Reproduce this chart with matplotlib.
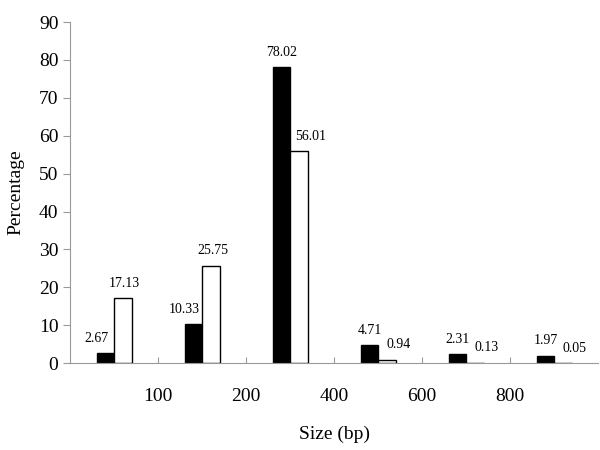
import numpy as np
import matplotlib
matplotlib.use('Agg')
import matplotlib.pyplot as plt

plt.rcParams['font.family'] = ['Liberation Serif', 'DejaVu Serif']

# 数据
groups = ['<100', '100-200', '200-400', '400-600', '600-800', '>800']
black_vals = [2.67, 10.33, 78.02, 4.71, 2.31, 1.97]
white_vals = [17.13, 25.75, 56.01, 0.94, 0.13, 0.05]
tick_labels = ['100', '200', '400', '600', '800']

fig = plt.figure(figsize=(6, 4.5), dpi=100)
ax = fig.add_axes([0.117, 0.193, 0.88, 0.758])

x = np.arange(len(groups))
w = 0.2
ax.bar(x - w / 2, black_vals, w, color='black', edgecolor='black', linewidth=1)
ax.bar(x + w / 2, white_vals, w, color='white', edgecolor='black', linewidth=1)

# 数值标注
for i in range(len(groups)):
    b, wv = black_vals[i], white_vals[i]
    dxb = -0.1 if b < wv else 0.0
    dxw = 0.13 if wv < b else 0.02
    ax.annotate(f'{b:.2f}', (x[i] - w / 2 + dxb, b), xytext=(0, 6),
                textcoords='offset points', ha='center', va='bottom', fontsize=10)
    ax.annotate(f'{wv:.2f}', (x[i] + w / 2 + dxw, wv), xytext=(0, 6),
                textcoords='offset points', ha='center', va='bottom', fontsize=10)

ax.set_xlim(-0.5, len(groups) - 0.5)
ax.set_ylim(0, 90)
ax.set_yticks(range(0, 91, 10))
ax.set_xticks(x[:-1] + 0.5)
ax.set_xticklabels(tick_labels)

for s in ['top', 'right']:
    ax.spines[s].set_visible(False)
for s in ['left', 'bottom']:
    ax.spines[s].set_color('#999999')

ax.tick_params(axis='y', colors='#999999', labelcolor='black', labelsize=14, length=5, direction='out')
ax.tick_params(axis='x', colors='#999999', labelcolor='black', labelsize=14, length=4, direction='in', pad=18)

ax.set_xlabel('Size (bp)', fontsize=14, labelpad=15)
ax.set_ylabel('Percentage', fontsize=14, labelpad=10)

fig.savefig('out.png', dpi=100)
